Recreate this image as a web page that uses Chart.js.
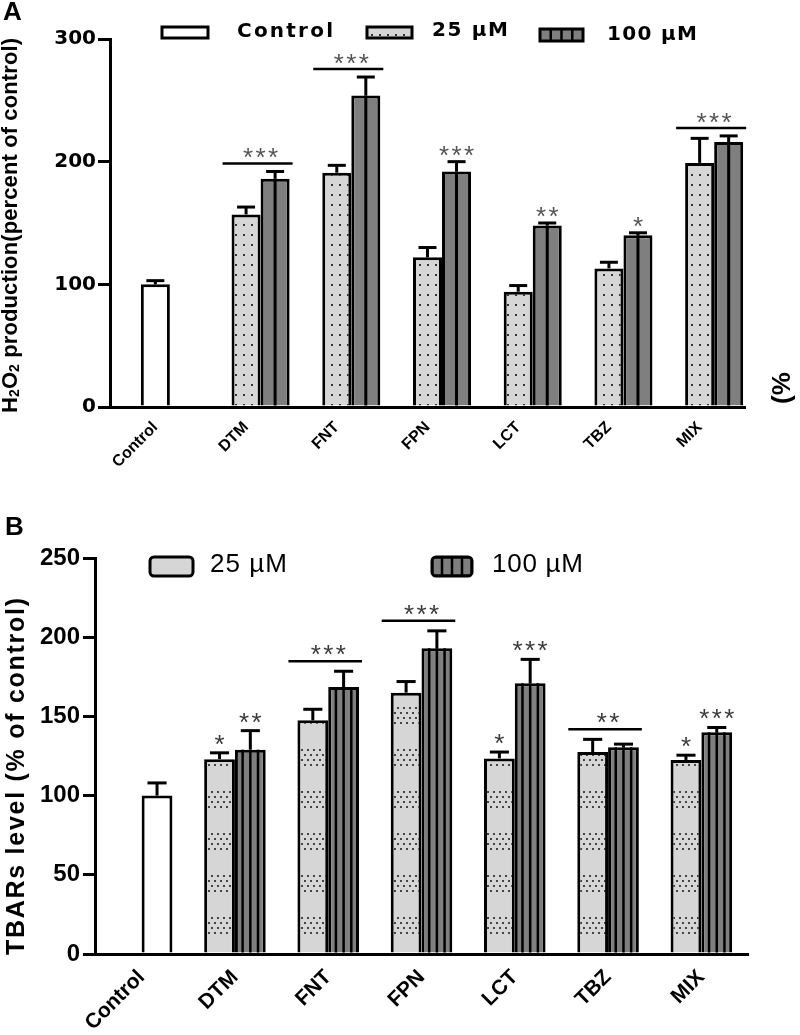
<!DOCTYPE html>
<html><head><meta charset="utf-8">
<script src="https://cdn.jsdelivr.net/npm/chart.js@4.4.1/dist/chart.umd.min.js"></script>
<style>
html,body{margin:0;padding:0;background:#fff;}
#wrapA{position:absolute;left:0;top:0;width:800px;height:495px;}
#wrapB{position:absolute;left:0;top:495px;width:800px;height:540px;}
canvas{display:block;}
</style></head><body>
<div id="wrapA"><canvas id="cA" width="800" height="495"></canvas></div>
<div id="wrapB"><canvas id="cB" width="800" height="540"></canvas></div>
<script>
const categories = ['Control','DTM','FNT','FPN','LCT','TBZ','MIX'];

// Panel A: H2O2 production (percent of control)
const aControl    = [100, null, null, null, null, null, null];
const aControlErr = [3, null, null, null, null, null, null];
const a25         = [null, 157, 191, 122, 94, 113, 199];
const a25Err      = [null, 6, 6, 8, 5, 5, 20];
const a100        = [null, 186, 254, 192, 148, 140, 216];
const a100Err     = [null, 6, 15, 8, 2, 2, 5];
const aSig25      = ['', '', '', '', '', '', ''];
const aSig100     = ['', '', '', '***', '**', '*', ''];
const aSigPair    = ['', '***', '***', '', '', '', '***'];
const aTicks      = [0, 100, 200, 300];

// Panel B: TBARs level (% of control)
const bControl    = [100, null, null, null, null, null, null];
const bControlErr = [8, null, null, null, null, null, null];
const b25         = [null, 123, 147.5, 165, 123.5, 127.5, 122.5];
const b25Err      = [null, 4, 7, 7, 4, 8, 3];
const b100        = [null, 129, 168.5, 193, 171, 130.5, 140];
const b100Err     = [null, 12, 10, 11, 15, 2, 3];
const bSig25      = ['', '*', '', '', '*', '', '*'];
const bSig100     = ['', '**', '', '', '***', '', '***'];
const bSigPair    = ['', '', '***', '***', '', '**', ''];
const bTicks      = [0, 50, 100, 150, 200, 250];

const SANS = '"Liberation Sans", Arial, sans-serif';
const WIDE = '"DejaVu Sans", sans-serif';
const LIGHT = '#d6d6d6', DARK = '#7f7f7f';

// ---------- patterns ----------
const pctx = document.createElement('canvas').getContext('2d');
function patternA() {
  const c = document.createElement('canvas'); c.width = 8; c.height = 10;
  const g = c.getContext('2d'); g.fillStyle = LIGHT; g.fillRect(0,0,8,10);
  g.fillStyle = '#333'; g.fillRect(3,4,2,2);
  return pctx.createPattern(c, 'repeat');
}
function patternB() {
  const c = document.createElement('canvas'); c.width = 12; c.height = 42;
  const g = c.getContext('2d'); g.fillStyle = LIGHT; g.fillRect(0,0,12,42);
  g.fillStyle = '#444';
  const pts = [[1,2],[7,2],[4,7],[10,7],[1,12],[7,12],[4,17],[10,17]];
  pts.forEach(p => g.fillRect(p[0], p[1], 2, 2));
  return pctx.createPattern(c, 'repeat');
}
const patA = patternA(), patB = patternB();

// ---------- text helpers ----------
function charsWidth(ctx, t){ let w=0; for (const ch of t) w += ctx.measureText(ch).width; return w; }
function drawSpaced(ctx, t, x, y, sp){ let cx=x; for (const ch of t){ ctx.fillText(ch, cx, y); cx += ctx.measureText(ch).width + sp; } }
function drawFit(ctx, t, x, y, width){ const n=[...t].length; const sp = n>1 ? (width - charsWidth(ctx,t))/(n-1) : 0; drawSpaced(ctx,t,x,y,sp); }
function drawStars(ctx, t, cx, cy, pitch){
  const adv = ctx.measureText('*').width; const sp = pitch - adv;
  const n = t.length; const total = n*adv + (n-1)*sp;
  const m = ctx.measureText('*');
  const base = cy + (m.actualBoundingBoxAscent - m.actualBoundingBoxDescent)/2;
  drawSpaced(ctx, t, cx - total/2, base, sp);
}

// ---------- plugin for bars decoration ----------
function decorPlugin(cfg){
  return {
    id: 'decor',
    afterDatasetsDraw(chart){
      const ctx = chart.ctx, ys = chart.scales.y;
      const props = el => el.getProps(['x','y','base','width'], true);
      ctx.save();
      // stripes in 100 µM bars
      const sm = chart.getDatasetMeta(cfg.stripe.ds);
      sm.data.forEach((el, i) => {
        if (chart.data.datasets[cfg.stripe.ds].data[i] == null) return;
        const p = props(el);
        ctx.strokeStyle = '#000'; ctx.lineWidth = cfg.stripe.lw;
        for (let k=1; k<cfg.stripe.n; k++){
          const lx = p.x - p.width/2 + p.width*k/cfg.stripe.n;
          ctx.beginPath(); ctx.moveTo(lx, p.y); ctx.lineTo(lx, p.base); ctx.stroke();
        }
      });
      // error bars
      cfg.errs.forEach(e => {
        const meta = chart.getDatasetMeta(e.ds);
        const vals = chart.data.datasets[e.ds].data;
        meta.data.forEach((el, i) => {
          if (vals[i] == null || e.err[i] == null) return;
          const p = props(el);
          const ty = ys.getPixelForValue(vals[i] + e.err[i]);
          const cw = p.width * 0.62;
          ctx.strokeStyle = '#000'; ctx.lineWidth = 3; ctx.lineCap = 'butt';
          ctx.beginPath(); ctx.moveTo(p.x, p.y); ctx.lineTo(p.x, ty); ctx.stroke();
          ctx.beginPath(); ctx.moveTo(p.x - cw/2, ty); ctx.lineTo(p.x + cw/2, ty); ctx.stroke();
        });
      });
      // significance
      const s = cfg.sig;
      const m25 = chart.getDatasetMeta(s.ds25), m100 = chart.getDatasetMeta(s.ds100);
      const d25 = chart.data.datasets[s.ds25].data, d100 = chart.data.datasets[s.ds100].data;
      ctx.font = s.font; ctx.fillStyle = s.color; ctx.textAlign = 'left';
      categories.forEach((c, i) => {
        const cap25 = d25[i] == null ? null : ys.getPixelForValue(d25[i] + (s.e25[i]||0));
        const cap100 = d100[i] == null ? null : ys.getPixelForValue(d100[i] + (s.e100[i]||0));
        if (s.s25[i]) { const p = props(m25.data[i]); drawStars(ctx, s.s25[i], p.x, cap25 - s.gapStar, s.pitch); }
        if (s.s100[i]) { const p = props(m100.data[i]); drawStars(ctx, s.s100[i], p.x, cap100 - s.gapStar, s.pitch); }
        if (s.pair[i]) {
          const p1 = props(m25.data[i]), p2 = props(m100.data[i]);
          const left = p1.x - p1.width/2 - 9, right = p2.x + p2.width/2 + 3;
          const ly = Math.min(cap25, cap100) - s.gapLine;
          ctx.strokeStyle = '#000'; ctx.lineWidth = 2.5;
          ctx.beginPath(); ctx.moveTo(left, ly); ctx.lineTo(right, ly); ctx.stroke();
          drawStars(ctx, s.pair[i], (p1.x + p2.x)/2, ly - s.gapLineStar, s.pitch);
        }
      });
      ctx.restore();
    },
    afterDraw(chart){ cfg.extra(chart.ctx, chart); }
  };
}

function boxStripes(ctx, x, y, w, h, n){
  ctx.fillStyle = DARK; ctx.fillRect(x, y, w, h);
  ctx.strokeStyle = '#000'; ctx.lineWidth = 2.5;
  for (let k=1;k<n;k++){ const lx = x + w*k/n; ctx.beginPath(); ctx.moveTo(lx,y); ctx.lineTo(lx,y+h); ctx.stroke(); }
  ctx.lineWidth = 3; ctx.strokeRect(x, y, w, h);
}

function baseOptions(t, yw, xh, pad, yFont, xFont, tickPad){
  return {
    responsive: false, animation: false, devicePixelRatio: 1,
    layout: { padding: pad },
    plugins: { legend: { display: false }, tooltip: { enabled: false } },
    scales: {
      x: {
        grid: { display: false },
        border: { display: true, color: '#000', width: 3, z: 1 },
        ticks: { color: '#000', font: xFont, minRotation: 45, maxRotation: 45, autoSkip: false, padding: 3 },
        afterFit: s => { s.height = xh; }
      },
      y: {
        min: t[0], max: t[t.length-1], stacked: false,
        grid: { display: true, drawOnChartArea: false, drawTicks: true, tickLength: 12, lineWidth: 3, color: '#000' },
        border: { display: true, color: '#000', width: 3, z: 1 },
        ticks: { stepSize: t[1]-t[0], color: '#000', font: yFont, padding: tickPad },
        afterFit: s => { s.width = yw; }
      }
    }
  };
}

// ---------- Chart A ----------
const optA = baseOptions(aTicks, 110, 88, {top: 39, right: 55, left: 0, bottom: 0},
  { family: WIDE, size: 20, weight: 'bold' }, { family: SANS, size: 16, weight: 'bold' }, 2);
new Chart(document.getElementById('cA'), {
  type: 'bar',
  data: {
    labels: categories,
    datasets: [
      { label: '', data: categories.map(() => null), stack: 's0' },
      { label: 'Control', data: aControl, stack: 's1', backgroundColor: '#fff', borderColor: '#000', borderWidth: 3 },
      { label: '25 µM', data: a25, stack: 's1', backgroundColor: patA, borderColor: '#000', borderWidth: 3 },
      { label: '100 µM', data: a100, stack: 's2', backgroundColor: DARK, borderColor: '#000', borderWidth: 3 }
    ]
  },
  options: Object.assign(optA, { datasets: { bar: { categoryPercentage: 0.96, barPercentage: 1.0 } } }),
  plugins: [decorPlugin({
    stripe: { ds: 3, n: 2, lw: 3 },
    errs: [{ds:1, err:aControlErr}, {ds:2, err:a25Err}, {ds:3, err:a100Err}],
    sig: { ds25: 2, ds100: 3, e25: a25Err, e100: a100Err, s25: aSig25, s100: aSig100, pair: aSigPair,
           font: '26px ' + SANS, color: '#555', gapStar: 11, gapLine: 8, gapLineStar: 10, pitch: 12.5 },
    extra: (ctx) => {
      ctx.save();
      ctx.fillStyle = '#000'; ctx.textAlign = 'left'; ctx.textBaseline = 'alphabetic';
      ctx.font = 'bold 26px ' + SANS; ctx.fillText('A', 3, 20);
      // legend
      ctx.fillStyle = '#fff'; ctx.fillRect(162, 27, 46, 11);
      ctx.strokeStyle = '#000'; ctx.lineWidth = 3; ctx.strokeRect(162, 27, 46, 11);
      ctx.fillStyle = patA; ctx.fillRect(367, 27, 45, 11); ctx.strokeRect(367, 27, 45, 11);
      boxStripes(ctx, 540, 29, 43, 12, 4);
      ctx.fillStyle = '#000'; ctx.font = 'bold 20px ' + WIDE;
      drawFit(ctx, 'Control', 237, 37, 96);
      drawFit(ctx, '25 µM', 432, 36, 76);
      drawFit(ctx, '100 µM', 607, 40, 90);
      // y title with subscripts
      ctx.translate(18, 413); ctx.rotate(-Math.PI/2);
      const parts = [['H',false],['2',true],['O',false],['2',true],[' production(percent of control)',false]];
      const big = 'bold 22px ' + SANS, small = 'bold 14px ' + SANS;
      let nat = 0, nch = 0;
      parts.forEach(p => { ctx.font = p[1]?small:big; nat += charsWidth(ctx, p[0]); nch += [...p[0]].length; });
      const sp = (375 - nat) / (nch - 1);
      let cx = 0;
      parts.forEach(p => {
        ctx.font = p[1]?small:big;
        for (const ch of p[0]) { ctx.fillText(ch, cx, p[1] ? 1 : -1); cx += ctx.measureText(ch).width + sp; }
      });
      ctx.setTransform(1,0,0,1,0,0);
      // stray "(%" at right edge
      ctx.translate(790, 404); ctx.rotate(-Math.PI/2);
      ctx.font = 'bold 26px ' + SANS; ctx.fillText('(%', 0, 0);
      ctx.restore();
    }
  })]
});

// ---------- Chart B ----------
const optB = baseOptions(bTicks, 95, 81, {top: 63, right: 52, left: 0, bottom: 0},
  { family: SANS, size: 24, weight: 'bold' }, { family: SANS, size: 21, weight: 'bold' }, 3);
new Chart(document.getElementById('cB'), {
  type: 'bar',
  data: {
    labels: categories,
    datasets: [
      { label: '25 µM', data: b25, stack: 's0', backgroundColor: patB, borderColor: '#000', borderWidth: 3 },
      { label: 'Control', data: bControl, stack: 's1', backgroundColor: '#fff', borderColor: '#000', borderWidth: 3 },
      { label: '100 µM', data: b100, stack: 's1', backgroundColor: DARK, borderColor: '#000', borderWidth: 3 }
    ]
  },
  options: Object.assign(optB, { datasets: { bar: { categoryPercentage: 0.66, barPercentage: 1.0 } } }),
  plugins: [decorPlugin({
    stripe: { ds: 2, n: 4, lw: 2.5 },
    errs: [{ds:0, err:b25Err}, {ds:1, err:bControlErr}, {ds:2, err:b100Err}],
    sig: { ds25: 0, ds100: 2, e25: b25Err, e100: b100Err, s25: bSig25, s100: bSig100, pair: bSigPair,
           font: '26px ' + SANS, color: '#3a3a3a', gapStar: 13, gapLine: 10, gapLineStar: 11, pitch: 12.5 },
    extra: (ctx) => {
      ctx.save();
      ctx.fillStyle = '#000'; ctx.textAlign = 'left'; ctx.textBaseline = 'alphabetic';
      ctx.font = 'bold 26px ' + SANS; ctx.fillText('B', 5, 40);
      // legend
      ctx.beginPath(); ctx.roundRect(150, 62, 43, 19, 4);
      ctx.fillStyle = patB; ctx.fill(); ctx.strokeStyle = '#000'; ctx.lineWidth = 3; ctx.stroke();
      ctx.save(); ctx.beginPath(); ctx.roundRect(432, 62, 40, 19, 4); ctx.clip();
      boxStripes(ctx, 432, 62, 40, 19, 4); ctx.restore();
      ctx.beginPath(); ctx.roundRect(432, 62, 40, 19, 4); ctx.lineWidth = 3; ctx.stroke();
      ctx.fillStyle = '#000'; ctx.font = '26px ' + SANS;
      drawFit(ctx, '25 µM', 210, 77, 77);
      drawFit(ctx, '100 µM', 492, 77, 91);
      // y title
      ctx.translate(24, 460); ctx.rotate(-Math.PI/2);
      ctx.font = 'bold 25px ' + SANS;
      drawFit(ctx, 'TBARs level (% of control)', 0, 0, 357);
      ctx.restore();
    }
  })]
});
</script>
</body></html>
